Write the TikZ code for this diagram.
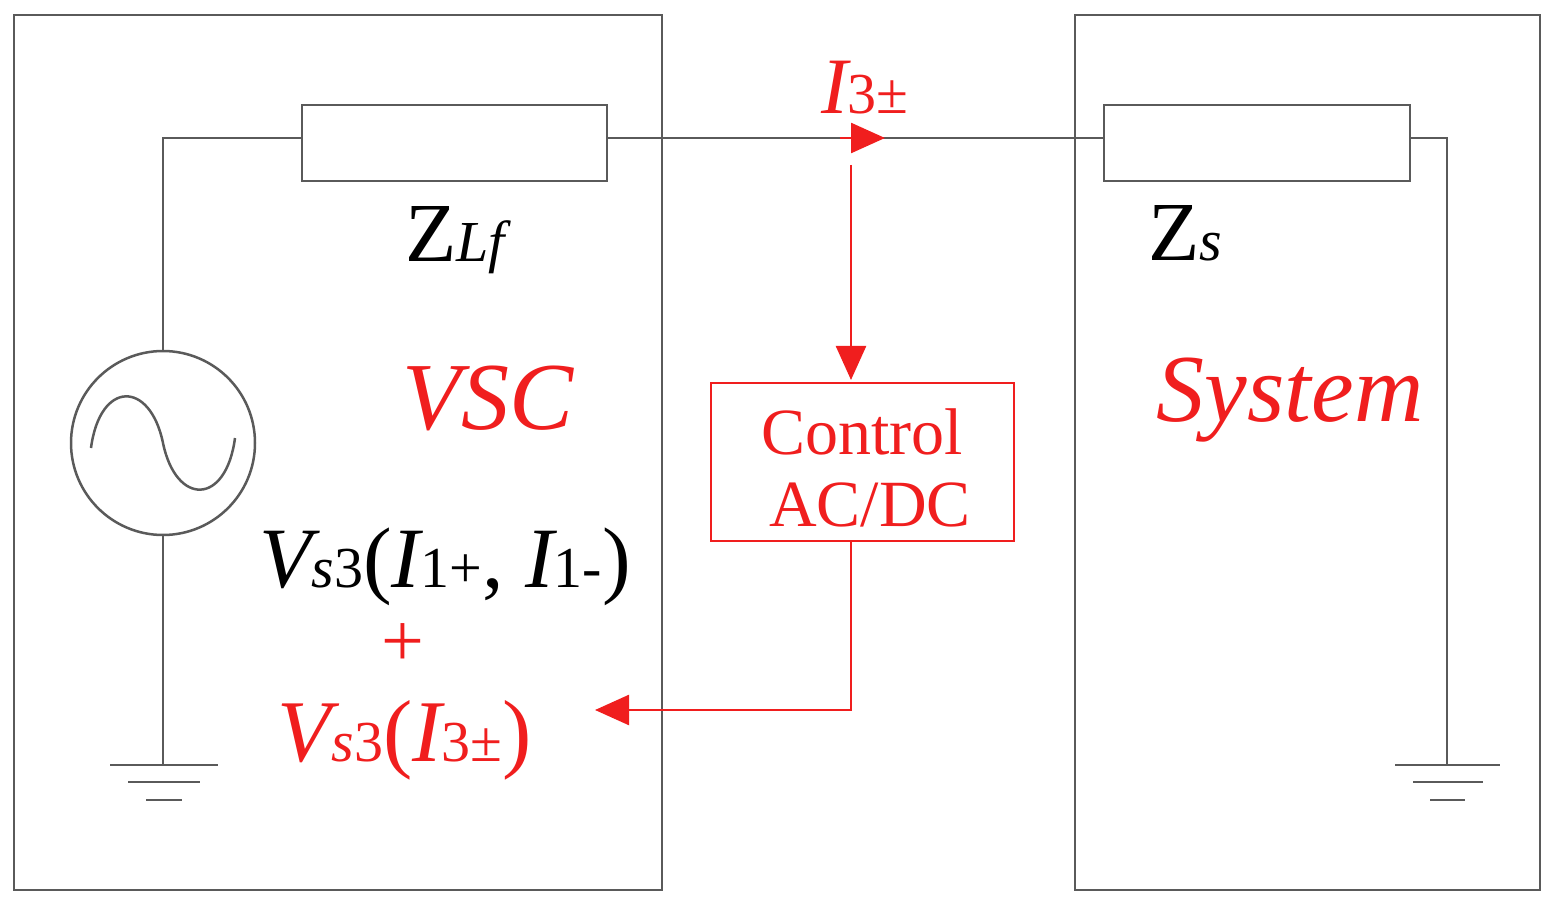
\documentclass[tikz,border=0pt]{standalone}
\usepackage{fontspec}
\setmainfont{Liberation Serif}
\usetikzlibrary{arrows.meta}
\definecolor{rd}{RGB}{240,30,30}
\definecolor{gr}{RGB}{90,90,90}
\newcommand{\fs}[1]{\fontsize{#1}{#1}\selectfont}
\newcommand{\sm}[1]{{\fs{58}#1}}
\begin{document}
\begin{tikzpicture}[x=1pt,y=-1pt,
  wire/.style={gr,line width=2.5pt},
  rwire/.style={rd,line width=2.5pt},
  tip/.style={-{Triangle[length=34pt,width=30pt]}},
  lab/.style={inner sep=0pt,anchor=center}]
\useasboundingbox (0,0) rectangle (1551,909);
\draw[wire] (14,15) rectangle (662,890);
\draw[wire] (1075,15) rectangle (1540,890);
\node[wire,draw,minimum width=305pt,minimum height=76pt,inner sep=0pt] (zlf) at (454.5,143) {};
\node[wire,draw,minimum width=306pt,minimum height=76pt,inner sep=0pt] (zs) at (1257,143) {};
\node[wire,draw,circle,minimum size=184pt,inner sep=0pt] (src) at (163,443) {};
\draw[wire] (91,448) .. controls (100,380) and (150,380) .. (163,443) .. controls (176,506) and (226,506) .. (235,438);
\coordinate (lt) at (163,138);
\coordinate (g1) at (163,765);
\coordinate (rt) at (1447,138);
\coordinate (g2) at (1447,765);
\draw[wire] (zlf.west |- lt) -- (lt) -- (src.north);
\draw[wire] (src.south) -- (g1);
\draw[wire] (110,765) -- (218,765) (128,782) -- (200,782) (146,800) -- (182,800);
\draw[wire] (zlf.east |- lt) -- (zs.west |- lt);
\draw[wire] (zs.east |- rt) -- (rt) -- (g2);
\draw[wire] (1395,765) -- (1500,765) (1413,782) -- (1483,782) (1430,800) -- (1465,800);
\coordinate (a1) at (840,138);
\coordinate (a2) at (885,138);
\draw[rd,line width=2.5pt,tip] (a1) -- (a2);
\node[rd,draw,line width=2.5pt,minimum width=303pt,minimum height=158pt,inner sep=0pt] (ctl) at (862.5,462) {};
\node[rd,lab] at (862,432) {\fs{66}Control};
\node[rd,lab] at (870,505) {\fs{66}AC/DC};
\coordinate (top) at (851,165);
\draw[rwire,tip] (top) -- (851,380);
\coordinate (fb) at (595,710);
\draw[rwire,tip] (ctl.south -| 851,0) -- (851,710) -- (fb);
\node[rd,lab] at (865,88) {\fs{80}\itshape I\sm{\upshape 3±}};
\node[lab] at (455,240) {\fs{84}Z\sm{\itshape Lf}};
\node[lab] at (1185,233) {\fs{84}Z\sm{\itshape s}};
\node[rd,lab] at (488,398) {\fs{96}\itshape VSC};
\node[rd,lab] at (1290,400) {\fs{96}\itshape System};
\node[lab] at (445,567) {\fs{86}\itshape V\sm{s\upshape 3}\upshape(\itshape I\sm{\upshape 1+}\upshape, \itshape I\sm{\upshape 1-}\upshape)};
\node[rd,lab] at (403,645) {\fs{76}+};
\node[rd,lab] at (405,740) {\fs{88}\itshape V\sm{s\upshape 3}\upshape(\itshape I\sm{\upshape 3±}\upshape)};
\end{tikzpicture}
\end{document}
